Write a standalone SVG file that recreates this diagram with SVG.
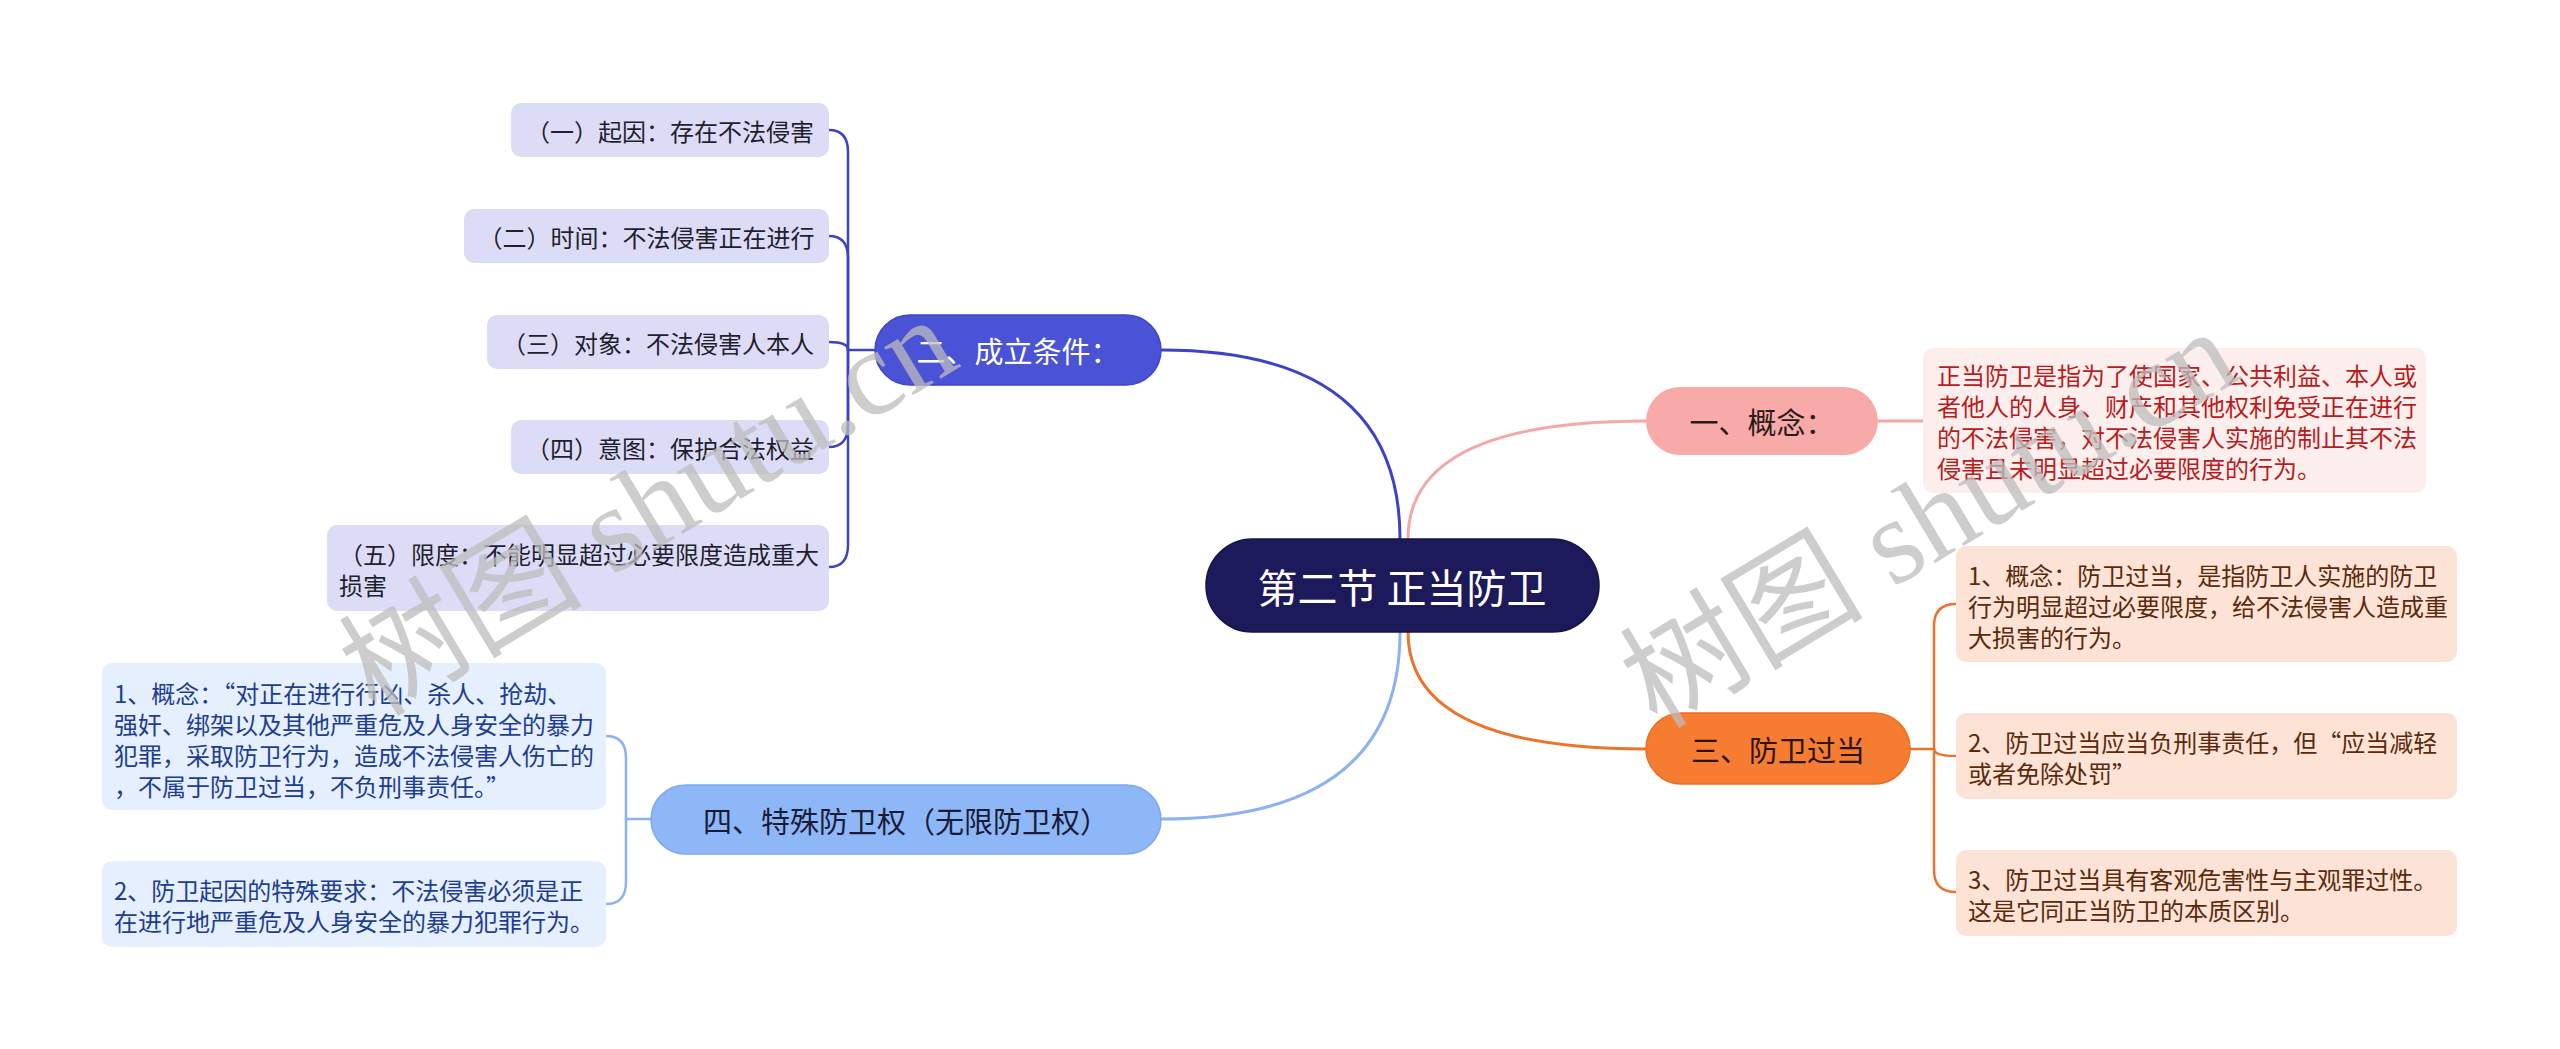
<svg xmlns="http://www.w3.org/2000/svg" width="2560" height="1049" viewBox="0 0 2560 1049">
<style>
text{font-family:"Noto Sans CJK SC","Noto Sans",sans-serif;}
.c{dominant-baseline:central}
.mid{text-anchor:middle}
.t24{font-size:24px}
.t29{font-size:29px}
.conn{fill:none;stroke-linecap:round;stroke-linejoin:round}
.wm{font-family:"Liberation Serif","Noto Sans CJK SC",serif;font-size:122px;fill:#bdbdbd;opacity:0.75}
</style>
<rect x="0" y="0" width="2560" height="1049" fill="#ffffff"/>

<g id="connectors" class="conn">
  <path d="M1400 539 Q1400 350 1161 350" stroke="#3c43c4" stroke-width="3"/>
  <path d="M1408 539 Q1408 421 1646 421" stroke="#f3a8a6" stroke-width="3"/>
  <path d="M1408 632 Q1408 749 1646 749" stroke="#ea742c" stroke-width="3"/>
  <path d="M1400 632 Q1400 819 1161 819" stroke="#8cb2ef" stroke-width="3"/>
  <path d="M1878 421 L1923 421" stroke="#f3a8a6" stroke-width="3"/>
  <g stroke="#3c43c4" stroke-width="2.5">
    <path d="M875 350 L848 350"/>
    <path d="M848 350 L848 152 Q848 130 829 130"/>
    <path d="M848 350 L848 258 Q848 236 829 236"/>
    <path d="M848 350 Q848 342 829 342"/>
    <path d="M848 350 L848 425 Q848 447 829 447"/>
    <path d="M848 350 L848 545 Q848 567 829 567"/>
  </g>
  <g stroke="#ea742c" stroke-width="2.5">
    <path d="M1910 749 L1934 749"/>
    <path d="M1934 749 L1934 626 Q1934 604 1956 604"/>
    <path d="M1934 749 Q1934 756 1956 756"/>
    <path d="M1934 749 L1934 870 Q1934 892 1956 892"/>
  </g>
  <g stroke="#8cb2ef" stroke-width="2.5">
    <path d="M651 819 L626 819"/>
    <path d="M626 819 L626 758 Q626 736 606 736"/>
    <path d="M626 819 L626 882 Q626 904 606 904"/>
  </g>
</g>

<g id="root">
  <rect x="1206" y="539" width="393" height="93" rx="46.5" fill="#1d1a5c" stroke="#151347" stroke-width="1.5"/>
  <text x="1402" y="586" class="c mid" font-size="40" fill="#ffffff">第二节 正当防卫</text>
</g>

<g id="n1">
  <rect x="1646" y="387" width="232" height="68" rx="34" fill="#f8aaa8"/>
  <text x="1762" y="421" class="c mid t29" fill="#2a1a1a">一、概念：</text>
</g>
<g id="n1-1">
  <rect x="1923" y="348" width="503" height="145" rx="10" fill="#fdeeee"/>
  <text class="c t24" fill="#b81c1c">
    <tspan x="1937" y="374">正当防卫是指为了使国家、公共利益、本人或</tspan>
    <tspan x="1937" y="405">者他人的人身、财产和其他权利免受正在进行</tspan>
    <tspan x="1937" y="436">的不法侵害，对不法侵害人实施的制止其不法</tspan>
    <tspan x="1937" y="467">侵害且未明显超过必要限度的行为。</tspan>
  </text>
</g>

<g id="n2">
  <rect x="875" y="315" width="286" height="70" rx="35" fill="#4a52d6" stroke="#3e46c6" stroke-width="1.5"/>
  <text x="1018" y="350" class="c mid t29" fill="#ffffff">二、成立条件：</text>
</g>
<g id="n2-1">
  <rect x="511" y="103" width="318" height="54" rx="10" fill="#dcdcf7"/>
  <text x="670" y="130" class="c mid t24" fill="#1f1f2e">（一）起因：存在不法侵害</text>
</g>
<g id="n2-2">
  <rect x="464" y="209" width="365" height="54" rx="10" fill="#dcdcf7"/>
  <text x="646.5" y="236" class="c mid t24" fill="#1f1f2e">（二）时间：不法侵害正在进行</text>
</g>
<g id="n2-3">
  <rect x="487" y="315" width="342" height="54" rx="10" fill="#dcdcf7"/>
  <text x="658" y="342" class="c mid t24" fill="#1f1f2e">（三）对象：不法侵害人本人</text>
</g>
<g id="n2-4">
  <rect x="511" y="420" width="318" height="54" rx="10" fill="#dcdcf7"/>
  <text x="670" y="447" class="c mid t24" fill="#1f1f2e">（四）意图：保护合法权益</text>
</g>
<g id="n2-5">
  <rect x="327" y="525" width="502" height="86" rx="10" fill="#dcdcf7"/>
  <text class="c t24" fill="#1f1f2e">
    <tspan x="339" y="553">（五）限度：不能明显超过必要限度造成重大</tspan>
    <tspan x="339" y="584">损害</tspan>
  </text>
</g>

<g id="n3">
  <rect x="1646" y="713" width="264" height="71" rx="35.5" fill="#f67c32" stroke="#ea6f24" stroke-width="1.5"/>
  <text x="1778" y="749" class="c mid t29" fill="#2b1405">三、防卫过当</text>
</g>
<g id="n3-1">
  <rect x="1956" y="546" width="501" height="116" rx="10" fill="#fde3d5"/>
  <text class="c t24" fill="#5a2a0c">
    <tspan x="1968" y="574">1、概念：防卫过当，是指防卫人实施的防卫</tspan>
    <tspan x="1968" y="605">行为明显超过必要限度，给不法侵害人造成重</tspan>
    <tspan x="1968" y="636">大损害的行为。</tspan>
  </text>
</g>
<g id="n3-2">
  <rect x="1956" y="713" width="501" height="86" rx="10" fill="#fde3d5"/>
  <text class="c t24" fill="#5a2a0c">
    <tspan x="1968" y="741">2、防卫过当应当负刑事责任，但“应当减轻</tspan>
    <tspan x="1968" y="772">或者免除处罚”</tspan>
  </text>
</g>
<g id="n3-3">
  <rect x="1956" y="850" width="501" height="86" rx="10" fill="#fde3d5"/>
  <text class="c t24" fill="#5a2a0c">
    <tspan x="1968" y="878">3、防卫过当具有客观危害性与主观罪过性。</tspan>
    <tspan x="1968" y="909">这是它同正当防卫的本质区别。</tspan>
  </text>
</g>

<g id="n4">
  <rect x="651" y="785" width="510" height="69" rx="34.5" fill="#8db7f7" stroke="#7fa9ec" stroke-width="1.5"/>
  <text x="906" y="820" class="c mid t29" fill="#1b1b36">四、特殊防卫权（无限防卫权）</text>
</g>
<g id="n4-1">
  <rect x="102" y="663" width="504" height="147" rx="10" fill="#e6effd"/>
  <text class="c t24" fill="#1d3e90">
    <tspan x="114" y="692">1、概念：“对正在进行行凶、杀人、抢劫、</tspan>
    <tspan x="114" y="723">强奸、绑架以及其他严重危及人身安全的暴力</tspan>
    <tspan x="114" y="754">犯罪，采取防卫行为，造成不法侵害人伤亡的</tspan>
    <tspan x="114" y="785">，不属于防卫过当，不负刑事责任。”</tspan>
  </text>
</g>
<g id="n4-2">
  <rect x="102" y="861" width="504" height="86" rx="10" fill="#e6effd"/>
  <text class="c t24" fill="#1d3e90">
    <tspan x="114" y="889">2、防卫起因的特殊要求：不法侵害必须是正</tspan>
    <tspan x="114" y="920">在进行地严重危及人身安全的暴力犯罪行为。</tspan>
  </text>
</g>

<g id="watermarks">
  <text class="wm" x="376" y="718" transform="rotate(-31 376 718)">树图 shutu.cn</text>
  <text class="wm" x="1657" y="730" transform="rotate(-31 1657 730)">树图 shutu.cn</text>
</g>
</svg>
